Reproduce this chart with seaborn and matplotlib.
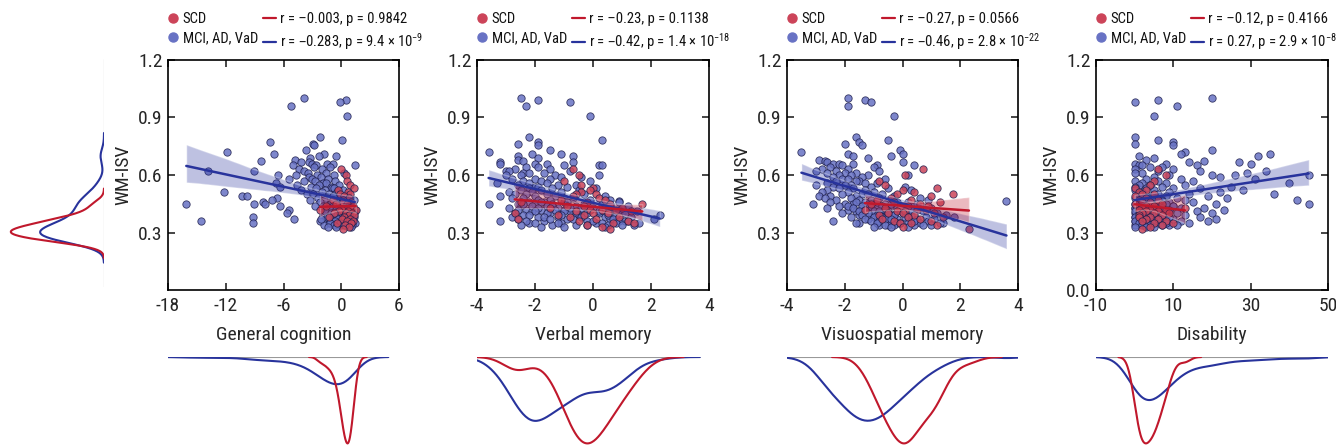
"""WM-ISV versus cognition / disability, split by diagnostic group."""

import matplotlib

matplotlib.use("Agg")
import matplotlib.pyplot as plt
import numpy as np
import pandas as pd
import seaborn as sns
from matplotlib.lines import Line2D
from matplotlib.ticker import FormatStrFormatter

# ---- data ---------------------------------------------------------------
# MCI, AD, VaD group: WM-ISV and the four scores, one entry per subject
pat_isv = [
    1.00, 0.99, 0.98, 0.96, 0.91, 0.80, 0.78, 0.77, 0.76, 0.755,
    0.73, 0.72, 0.71, 0.71, 0.70, 0.70, 0.69, 0.68, 0.675, 0.67,
    0.67, 0.66, 0.66, 0.66, 0.65, 0.65, 0.65, 0.64, 0.64, 0.63,
    0.63, 0.62, 0.62, 0.62, 0.61, 0.61, 0.61, 0.60, 0.60, 0.60,
    0.60, 0.59, 0.59, 0.58, 0.58, 0.58, 0.57, 0.57, 0.57, 0.56,
    0.56, 0.56, 0.55, 0.55, 0.55, 0.54, 0.54, 0.54, 0.53, 0.53,
    0.53, 0.52, 0.52, 0.52, 0.51, 0.51, 0.51, 0.50, 0.50, 0.50,
    0.50, 0.49, 0.49, 0.49, 0.49, 0.48, 0.48, 0.48, 0.48, 0.47,
    0.47, 0.47, 0.47, 0.465, 0.46, 0.46, 0.46, 0.46, 0.45, 0.45,
    0.45, 0.45, 0.45, 0.44, 0.44, 0.44, 0.44, 0.43, 0.43, 0.43,
    0.43, 0.42, 0.42, 0.42, 0.42, 0.41, 0.41, 0.41, 0.41, 0.40,
    0.40, 0.40, 0.40, 0.40, 0.39, 0.39, 0.39, 0.39, 0.38, 0.38,
    0.38, 0.38, 0.37, 0.37, 0.37, 0.37, 0.36, 0.36, 0.36, 0.36,
    0.36, 0.35, 0.35, 0.35, 0.35, 0.35, 0.34, 0.34, 0.34, 0.34,
    0.46, 0.46, 0.45, 0.45, 0.44, 0.44, 0.44, 0.43, 0.43, 0.43,
    0.42, 0.42, 0.42, 0.41, 0.41, 0.41, 0.40, 0.40, 0.40, 0.39,
    0.39, 0.39, 0.38, 0.38, 0.38, 0.37, 0.37, 0.37, 0.36, 0.36,
    0.36, 0.35, 0.35, 0.35, 0.34, 0.34, 0.34, 0.33, 0.33, 0.33,
]
pat_gc = [
    -3.9, 0.5, -0.1, -5.2, 0.6, -2.2, 0.1, -7.4, -2.9, -2.8,
    -3.7, -11.9, -1.8, -7.0, -2.3, -0.5, -3.2, -4.8, -8.3, -4.2,
    -3.4, -3.0, -1.5, -0.9, 1.4, -2.6, -5.0, -2.8, -1.2, -2.0,
    -4.4, -13.8, -3.9, -9.1, -3.5, 0.3, -1.6, -2.5, -4.7, -6.6,
    -0.8, -3.3, -2.1, -1.4, -3.0, -5.4, -2.7, -0.6, -3.9, -6.8,
    -1.9, -1.6, -2.3, -0.2, -4.6, -6.4, -1.1, -3.1, -1.0, -2.6,
    -0.8, -1.7, -4.2, 0.2, -12.2, -2.0, -0.4, -3.6, -0.6, -1.3,
    -2.9, -10.3, -9.8, -0.9, 0.6, -2.4, -6.7, -1.5, 0.0, -3.2,
    -7.2, 1.3, -1.8, -0.5, -0.5, -8.1, -2.2, 0.8, -16.1, -9.1,
    -7.9, -1.2, 0.9, -0.3, -6.4, 1.1, -2.7, -1.6, 0.3, 0.4,
    -2.0, -5.4, -0.7, 1.4, 1.2, -1.0, 0.6, 0.1, -0.2, -5.6,
    -1.4, 0.7, 1.3, -0.2, -1.9, 0.3, 0.5, -1.1, -9.2, 0.9,
    1.1, -0.6, -4.9, -1.6, 1.2, -0.1, -14.6, -2.2, -0.8, 0.5,
    0.7, -9.2, -1.3, 0.2, 1.4, 1.0, -0.4, -1.8, 0.8, 0.0,
    -1.0, 0.4, -0.6, 0.9, -1.9, 0.2, -0.9, 1.0, -0.2, -1.3,
    0.6, -0.5, 1.2, -1.7, 0.0, 0.8, -0.7, 0.3, -1.1, 1.1,
    -0.4, 0.5, -1.5, 0.1, 1.3, -0.3, 0.7, -2.1, 0.9, -0.6,
    0.4, -1.2, 0.6, -0.1, 1.1, -0.8, 0.3, -0.5, 1.0, -1.4,
]
pat_vm = [
    -2.5, -1.9, -0.8, -2.3, -0.1, -2.2, 0.3, -1.9, -2.6, -1.9,
    -1.5, -3.6, -1.1, -2.1, -0.7, -2.6, -1.9, -2.6, -2.4, -3.2,
    -0.7, -2.0, -1.6, -3.2, 0.2, -1.0, 0.3, -2.3, -1.9, -2.7,
    -1.5, -3.0, -0.8, -2.9, -2.4, -1.7, -2.2, 0.2, -1.3, -3.0,
    -2.5, -1.1, -0.4, -2.0, -1.5, -2.8, -1.8, -2.4, -0.1, -2.2,
    -1.6, -3.3, -2.6, -1.2, -0.6, -2.0, -1.9, -0.9, -2.2, -1.4,
    0.1, -2.5, -1.8, -0.5, -2.9, -1.1, -2.1, -2.3, -1.6, -0.3,
    -2.7, -3.2, -2.0, -1.3, 0.4, -2.4, -1.0, -2.8, -0.7, -1.5,
    0.6, -1.9, -0.1, 0.9, -2.2, -1.7, -1.0, 0.9, -3.6, -2.6,
    -1.4, 0.3, -2.0, -1.6, -0.6, -2.5, 1.2, -1.2, -2.9, 0.0,
    -0.4, -2.3, 0.7, -1.0, -1.8, 0.5, -2.1, 1.5, -0.8, -2.7,
    0.2, -0.2, -1.5, 1.0, -2.4, 0.8, -0.5, 2.3, -1.9, -1.2,
    0.4, 1.3, -2.6, -0.9, 0.6, 2.1, -3.2, -0.2, 1.1, -1.7,
    0.9, -2.2, 0.1, 1.6, -1.1, 0.3, -0.6, 1.4, -1.4, 0.5,
    -1.8, -0.9, -2.4, -0.3, -1.4, 0.6, -2.1, -0.8, -1.9, 0.4,
    -1.3, -2.6, 0.9, -1.0, -2.0, 0.2, -1.6, -0.6, 1.1, -2.2,
    -1.1, 0.5, -1.7, -2.8, -0.4, 0.7, -1.5, -0.7, -2.3, 0.0,
    1.2, -1.2, -2.0, 0.8, -0.2, -2.5, 1.0, -1.0, 0.4, -1.8,
]
pat_vs = [
    -1.9, -1.3, -1.1, -1.9, -0.3, -1.6, -0.5, -1.5, -2.0, -1.4,
    -0.1, -3.5, 0.0, -1.9, -0.4, -1.7, -1.2, -2.9, -2.7, -2.6,
    0.0, -2.4, -1.7, -2.2, 0.4, -0.9, -2.1, -2.5, -1.0, -2.8,
    -1.9, -3.0, -0.8, -2.3, -1.6, -2.0, -2.6, 0.2, -1.2, -2.2,
    -1.8, -2.4, -1.4, -2.1, -0.6, -1.9, -1.5, -2.3, -1.6, -2.6,
    -0.9, -1.3, -3.0, -1.8, -2.0, -2.4, -1.1, 0.1, -2.2, -1.7,
    -0.5, -2.6, -1.3, 0.3, -2.8, -1.0, -1.9, -2.1, -1.4, -0.7,
    -1.2, -2.5, -2.9, -0.3, -1.6, -2.7, -1.8, -0.8, 0.6, -2.3,
    -1.1, 0.9, -1.5, 3.6, -2.5, -1.3, 0.2, -0.2, -3.1, -2.0,
    -0.6, 0.5, -1.7, -2.2, -1.0, 0.0, -0.4, -1.4, -2.6, 1.0,
    -0.9, -1.9, 0.4, -0.1, -1.2, -0.7, 0.7, -1.6, -0.5, -2.1,
    0.1, 1.2, -0.8, -1.1, -1.5, 0.3, -0.3, 1.5, -1.8, 0.8,
    -0.6, 1.8, -1.2, 0.5, -0.2, 1.1, -2.4, -0.9, 0.9, 0.2,
    -0.4, -1.5, 1.4, -0.1, 0.6, 1.3, -0.8, 0.4, -0.5, 1.0,
    -1.6, -0.9, -1.2, -0.4, -1.9, -0.7, -1.4, -0.2, -1.1, -1.7,
    -0.6, -1.3, 0.3, -1.0, -0.8, -1.5, -0.5, -1.2, 0.0, -0.9,
    -0.3, -1.4, -0.7, -1.0, 0.1, -0.6, -1.3, -0.4, -0.8, -1.1,
    0.4, -0.2, -0.9, -1.6, -0.3, -0.6, 0.7, -1.0, 0.2, -0.4,
]
pat_dis = [
    20, 6, 0, 11, 5, 0, 6, 10, 0, 10,
    20, 13, 35, 12, 32, 1, 5, 3, 18, 14,
    27, 0, 8, 30, 1, 2, 16, 4, 7, 0,
    10, 17, 6, 34, 29, 2, 0, 26, 45, 20,
    9, 22, 5, 3, 12, 31, 0, 6, 15, 2,
    8, 40, 1, 4, 13, 0, 7, 25, 3, 10,
    17, 5, 0, 28, 2, 9, 22, 6, 1, 14,
    36, 4, 8, 3, 19, 0, 11, 5, 24, 2,
    7, 13, 42, 7, 1, 9, 4, 15, 3, 0,
    6, 21, 45, 2, 10, 5, 8, 0, 3, 12,
    18, 1, 7, 4, 23, 2, 9, 6, 16, 0,
    11, 3, 20, 5, 1, 8, 4, 13, 0, 6,
    17, 2, 10, 3, 21, 7, 0, 5, 12, 1,
    19, 4, 8, 2, 14, 6, 0, 11, 3, 9,
    2, 6, 3, 8, 1, 4, 10, 0, 5, 7,
    2, 9, 3, 0, 6, 4, 1, 8, 3, 5,
    2, 7, 0, 4, 9, 1, 6, 3, 2, 5,
    0, 8, 3, 1, 4, 7, 2, 0, 5, 3,
]

# SCD group
scd_isv = [
    0.63, 0.60, 0.57, 0.55, 0.53, 0.52, 0.51, 0.50, 0.50, 0.49,
    0.48, 0.47, 0.47, 0.46, 0.46, 0.45, 0.45, 0.44, 0.44, 0.43,
    0.43, 0.42, 0.42, 0.42, 0.41, 0.41, 0.40, 0.40, 0.40, 0.39,
    0.39, 0.38, 0.38, 0.37, 0.37, 0.36, 0.36, 0.35, 0.35, 0.34,
    0.33, 0.32,
]
scd_gc = [
    0.0, 0.5, 0.6, 0.9, 1.3, -0.3, 0.7, -0.1, 0.9, 0.3,
    0.8, 0.2, -0.9, 0.2, 1.0, -0.5, 0.6, 1.2, -1.6, 0.4,
    0.9, -2.2, 0.1, 1.5, 0.7, -0.2, 1.1, 0.5, -0.8, 0.8,
    1.3, 0.3, -1.3, 0.9, 0.1, 1.2, 0.6, -0.4, 1.0, 0.4,
    0.8, 0.2,
]
scd_vm = [
    -0.7, -0.5, -1.0, -0.4, 0.0, -0.1, -0.4, -0.6, 0.1, -0.7,
    0.2, -1.1, 0.4, -0.2, -2.5, 0.6, 1.7, -0.9, -0.3, 1.0,
    -1.5, 0.3, -0.1, 0.8, -0.6, 1.3, -2.7, 0.0, 0.5, -0.3,
    -1.2, 0.9, -0.8, -2.6, 0.1, 1.2, -0.5, 0.7, 1.4, -0.2,
    0.3, 0.6,
]
scd_vs = [
    0.7, 0.1, -0.8, -0.6, 1.2, 0.0, 0.4, 1.75, -0.2, 1.0,
    -0.4, -0.9, 0.3, 1.3, -0.3, 0.6, -1.1, 0.2, 0.9, -0.6,
    -0.1, 0.5, -1.3, 0.8, -0.2, 0.1, 1.1, -0.5, 0.0, 0.4,
    -0.8, 1.4, 0.2, -0.7, 0.6, -0.3, 1.0, -0.1, 0.3, 1.2,
    0.0, 2.3,
]
scd_dis = [
    6, 8, 5, 4, 0, 3, 1, 2, 5, 0,
    3, 6, 1, 4, 2, 7, 0, 3, 5, 13,
    2, 8, 1, 4, 6, 3, 9, 2, 5, 7,
    1, 4, 1, 3, 6, 8, 2, 10, 5, 7,
    4, 2,
]

panel_cols = ["gc", "vm", "vs", "dis"]
panel_xlabels = ["General cognition", "Verbal memory", "Visuospatial memory", "Disability"]
panel_xticks = [[-18, -12, -6, 0, 6], [-4, -2, 0, 2, 4], [-4, -2, 0, 2, 4], [-10, 10, 30, 50]]
scd_stats = [
    "r = –0.003, p = 0.9842",
    "r = –0.23, p = 0.1138",
    "r = –0.27, p = 0.0566",
    "r = –0.12, p = 0.4166",
]
pat_stats = [
    r"r = –0.283, p = 9.4 × 10$^{-9}$",
    r"r = –0.42, p = 1.4 × 10$^{-18}$",
    r"r = –0.46, p = 2.8 × 10$^{-22}$",
    r"r = 0.27, p = 2.9 × 10$^{-8}$",
]

# ---- style -----------------------------------------------------------------
RED_FACE, BLUE_FACE = "#cc4459", "#6872c4"
RED_LINE, BLUE_LINE = "#c0182c", "#28339c"
EDGE = "#1e1f4e"

sns.set_theme(style="ticks")
plt.rcParams.update(
    {
        "font.family": ["Roboto Condensed", "Liberation Sans", "DejaVu Sans"],
        "mathtext.default": "regular",
        "axes.unicode_minus": False,
        "axes.edgecolor": "black",
        "axes.linewidth": 1.2,
        "xtick.direction": "in",
        "ytick.direction": "in",
        "xtick.top": True,
        "ytick.right": True,
        "xtick.major.size": 5,
        "ytick.major.size": 5,
        "xtick.major.width": 1.2,
        "ytick.major.width": 1.2,
        "xtick.major.pad": 5,
        "ytick.major.pad": 4,
        "xtick.labelsize": 14,
        "ytick.labelsize": 14,
        "axes.labelsize": 14,
        "text.color": "#111111",
    }
)

pat = pd.DataFrame({"isv": pat_isv, "gc": pat_gc, "vm": pat_vm, "vs": pat_vs, "dis": pat_dis})
scd = pd.DataFrame({"isv": scd_isv, "gc": scd_gc, "vm": scd_vm, "vs": scd_vs, "dis": scd_dis})

W, H = 1336, 446
fig = plt.figure(figsize=(W / 100, H / 100), dpi=100)


def px_axes(left, top, right, bottom):
    return fig.add_axes([left / W, 1 - bottom / H, (right - left) / W, (bottom - top) / H])


ax_left = [168, 477, 787, 1096]
ax_right = [399, 709, 1018, 1328]
AX_TOP, AX_BOTTOM = 60, 290

for i, col in enumerate(panel_cols):
    ax = px_axes(ax_left[i], AX_TOP, ax_right[i], AX_BOTTOM)
    xt = panel_xticks[i]

    for df, face in ((pat, BLUE_FACE), (scd, RED_FACE)):
        sns.scatterplot(
            data=df, x=col, y="isv", ax=ax, color=face, edgecolor=EDGE,
            linewidth=0.6, s=28, alpha=0.85, zorder=2, legend=False,
        )
    for df, line in ((pat, BLUE_LINE), (scd, RED_LINE)):
        sns.regplot(
            data=df, x=col, y="isv", ax=ax, scatter=False, color=line,
            line_kws={"lw": 1.8, "zorder": 4}, seed=0,
        )
        ax.collections[-1].set_alpha(0.3)
        ax.collections[-1].set_zorder(3)

    ax.set_xlim(xt[0], xt[-1])
    ax.set_xticks(xt)
    ax.set_ylim(0, 1.2)
    ax.set_yticks([0, 0.3, 0.6, 0.9, 1.2] if i == 3 else [0.3, 0.6, 0.9, 1.2])
    ax.yaxis.set_major_formatter(FormatStrFormatter("%.1f"))
    ax.set_xlabel(panel_xlabels[i], labelpad=8)
    ax.set_ylabel("WM-ISV", labelpad=4)

    handles = [
        Line2D([], [], ls="none", marker="o", ms=6.5, mfc=RED_FACE, mec=RED_FACE),
        Line2D([], [], ls="none", marker="o", ms=6.5, mfc=BLUE_FACE, mec=BLUE_FACE),
        Line2D([], [], color=RED_LINE, lw=1.6),
        Line2D([], [], color=BLUE_LINE, lw=1.6),
    ]
    labels = ["SCD", "MCI, AD, VaD", scd_stats[i], pat_stats[i]]
    ax.legend(
        handles, labels, ncol=2, loc="center left", frameon=False,
        bbox_to_anchor=((ax_left[i] - 2) / W, 1 - 32 / H), bbox_transform=fig.transFigure,
        fontsize=10.5, handlelength=0.9, handletextpad=0.25, columnspacing=0.35,
        labelspacing=0.35, borderpad=0, borderaxespad=0,
    )

    # marginal density of the score, hanging below the panel
    kax = px_axes(ax_left[i], 357, ax_right[i], 446)
    sns.kdeplot(x=pat[col], ax=kax, color=BLUE_LINE, lw=1.5)
    sns.kdeplot(x=scd[col], ax=kax, color=RED_LINE, lw=1.5)
    xs = np.concatenate([ln.get_xdata() for ln in kax.get_lines()])
    ys = np.concatenate([ln.get_ydata() for ln in kax.get_lines()])
    kax.hlines(0, max(xs.min(), xt[0]), min(xs.max(), xt[-1]), color="0.6", lw=0.8, zorder=0)
    kax.set_xlim(xt[0], xt[-1])
    kax.set_ylim(ys.max() * 1.03, 0)
    kax.axis("off")

# marginal density of WM-ISV, to the left of the first panel
lax = px_axes(8, 59, 104, 287)
sns.kdeplot(y=pat["isv"], ax=lax, color=BLUE_LINE, lw=1.5)
sns.kdeplot(y=scd["isv"], ax=lax, color=RED_LINE, lw=1.5)
dens = np.concatenate([ln.get_xdata() for ln in lax.get_lines()])
lax.axvline(0, color="0.6", lw=0.8, zorder=0)
lax.set_xlim(dens.max() * 1.03, 0)
lax.set_ylim(0.0, 1.7)
lax.axis("off")

fig.savefig("out.png", dpi=100, facecolor="white")
